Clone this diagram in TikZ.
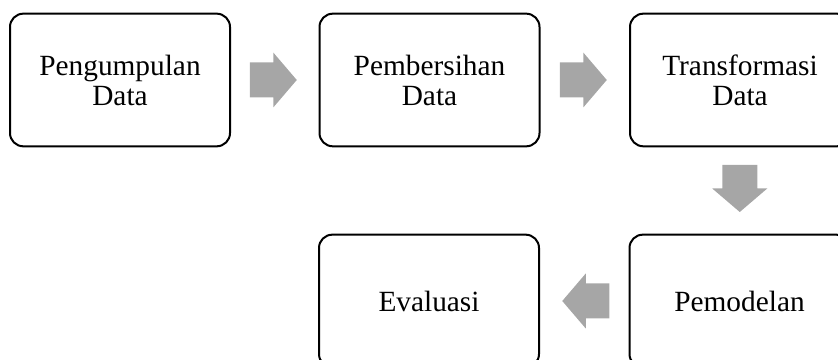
\documentclass[tikz,border=0pt]{standalone}
\usepackage{fontspec}
\setmainfont{Liberation Serif}
\usetikzlibrary{calc}
\definecolor{arrowgray}{HTML}{A6A6A6}
\newcommand\flowarrow[2]{%
  \fill[arrowgray, shift={(#1)}, rotate=#2]
    (-23.5,-17.5) -- (0,-17.5) -- (0,-27.5) -- (23.5,0) -- (0,27.5)
    -- (0,17.5) -- (-23.5,17.5) -- cycle;}
\begin{document}
\begin{tikzpicture}[x=0.75pt,y=0.75pt,
  stepbox/.style={draw=black, line width=1.5pt, rounded corners=10pt,
    minimum width=165pt, minimum height=99.5pt, align=center,
    font=\fontsize{22}{22.5}\selectfont, inner sep=0pt}]
\useasboundingbox (0,0) rectangle (838,360);
\node[stepbox] (b1) at (120,280) {Pengumpulan\\Data};
\node[stepbox] (b2) at (429.5,280) {Pembersihan\\Data};
\node[stepbox] (b3) at (740,280) {Transformasi\\Data};
\node[stepbox] (b4) at (739.5,59) {Pemodelan};
\node[stepbox] (b5) at (429,59) {Evaluasi};
\coordinate (m1) at ($(b1.east)!0.5!(b2.west)+(-1.5,0)$);
\coordinate (m2) at ($(b2.east)!0.5!(b3.west)+(-1.5,0)$);
\coordinate (m3) at ($(b3.south)!0.5!(b4.north)+(0,2)$);
\coordinate (m4) at ($(b4.west)!0.5!(b5.east)+(1.5,0)$);
\flowarrow{m1}{0}
\flowarrow{m2}{0}
\flowarrow{m3}{-90}
\flowarrow{m4}{180}
\end{tikzpicture}
\end{document}
